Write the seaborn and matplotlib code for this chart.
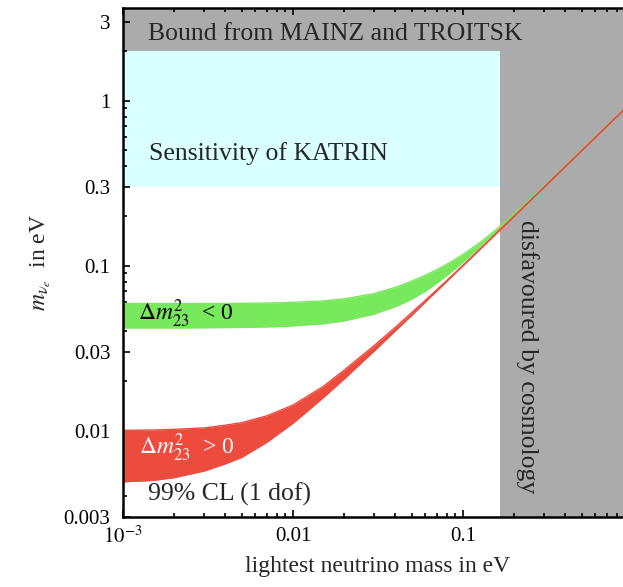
import numpy as np
import pandas as pd
import matplotlib
matplotlib.use("Agg")
import matplotlib.pyplot as plt
import seaborn as sns
from matplotlib.ticker import FixedLocator, LogLocator, NullFormatter

# Lightest neutrino mass (eV) at which the bands are sampled
m_light = [0.001, 0.0015, 0.002, 0.003, 0.004, 0.005, 0.007, 0.01, 0.015, 0.02, 0.03, 0.04,
           0.05, 0.06, 0.07, 0.08, 0.09, 0.1, 0.115, 0.13, 0.15, 0.17, 0.3, 0.5, 1.0]

# Inverted ordering (Delta m^2_23 < 0): effective electron-neutrino mass range (eV)
inv_upper = [0.0590, 0.0590, 0.0590, 0.0590, 0.0590, 0.0592, 0.0594, 0.0600, 0.0612, 0.0630,
             0.0678, 0.0740, 0.0808, 0.0875, 0.0945, 0.1018, 0.1095, 0.1172, 0.1295, 0.1420,
             0.1600, 0.1780, 0.3030, 0.5030, 1.0030]
inv_lower = [0.0420, 0.0420, 0.0420, 0.0421, 0.0422, 0.0423, 0.0426, 0.0432, 0.0445, 0.0463,
             0.0510, 0.0565, 0.0628, 0.0702, 0.0785, 0.0870, 0.0960, 0.1050, 0.1200, 0.1350,
             0.1550, 0.1740, 0.3005, 0.5005, 1.0005]

# Normal ordering (Delta m^2_23 > 0)
nor_upper = [0.01005, 0.0101, 0.0102, 0.0104, 0.0108, 0.0112, 0.0123, 0.0143, 0.0185, 0.0233,
             0.0328, 0.0424, 0.0521, 0.0617, 0.0714, 0.0811, 0.0909, 0.1007, 0.1155, 0.1304,
             0.1503, 0.1703, 0.3000, 0.5000, 0.9995]
nor_lower = [0.0049, 0.0050, 0.0052, 0.0057, 0.0063, 0.0069, 0.0085, 0.0111, 0.0158, 0.0206,
             0.0304, 0.0403, 0.0502, 0.0602, 0.0702, 0.0801, 0.0901, 0.1000, 0.1149, 0.1298,
             0.1497, 0.1696, 0.2988, 0.4985, 0.9975]

# Experimental limits (eV)
mainz_troitsk_bound = 2.0
katrin_sensitivity = 0.3
cosmology_bound = 0.165

x_ticks = [0.001, 0.01, 0.1]
x_tick_labels = [r"$10^{-3}$", "0.01", "0.1"]
y_ticks = [0.003, 0.01, 0.03, 0.1, 0.3, 1, 3]
y_tick_labels = ["0.003", "0.01", "0.03", "0.1", "0.3", "1", "3"]

sns.set_theme(style="ticks")
plt.rcParams["font.family"] = ["Liberation Serif", "DejaVu Serif"]
plt.rcParams["mathtext.fontset"] = "stix"

W, H = 623, 587
fig = plt.figure(figsize=(W / 100, H / 100), dpi=100)
ax = fig.add_axes([123 / W, 70 / H, 510 / W, 509 / H])

x_min, x_max = 1e-3, 1.0
y_min, y_max = 0.003, 3.65
ax.set_xscale("log")
ax.set_yscale("log")
ax.set_xlim(x_min, x_max)
ax.set_ylim(y_min, y_max)

grey = "#ababab"
cyan = "#d9ffff"
green = "#78e85c"
red = "#ec4b3d"

# Excluded / probed regions
ax.axhspan(mainz_troitsk_bound, y_max, color=grey, lw=0, zorder=0)
ax.axvspan(cosmology_bound, x_max, color=grey, lw=0, zorder=0)
ax.fill_between([x_min, cosmology_bound], katrin_sensitivity, mainz_troitsk_bound,
                color=cyan, lw=0, zorder=0)

df = pd.DataFrame({
    "m": m_light,
    "inv_hi": inv_upper, "inv_lo": inv_lower,
    "nor_hi": nor_upper, "nor_lo": nor_lower,
})

# Allowed bands
ax.fill_between(df["m"], df["inv_lo"], df["inv_hi"], color=green, lw=0, zorder=2)
ax.fill_between(df["m"], df["nor_lo"], df["nor_hi"], color=red, lw=0, zorder=3)
for col, c, z in [("inv_hi", green, 2), ("inv_lo", green, 2), ("nor_hi", red, 3), ("nor_lo", red, 3)]:
    sns.lineplot(data=df, x="m", y=col, ax=ax, color=c, lw=1.0, zorder=z,
                 estimator=None, sort=False)

# Ticks in the inward style
ax.xaxis.set_major_locator(FixedLocator(x_ticks))
ax.set_xticklabels(x_tick_labels)
ax.yaxis.set_major_locator(FixedLocator(y_ticks))
ax.set_yticklabels(y_tick_labels)
ax.xaxis.set_minor_locator(LogLocator(base=10, subs=np.arange(2, 10)))
ax.yaxis.set_minor_locator(LogLocator(base=10, subs=np.arange(2, 10)))
ax.xaxis.set_minor_formatter(NullFormatter())
ax.yaxis.set_minor_formatter(NullFormatter())
ax.tick_params(which="both", direction="in", top=True, right=False, width=1.2,
               colors="black", labelsize=15, zorder=10)
ax.tick_params(which="major", length=5)
ax.tick_params(which="minor", length=3)
ax.tick_params(axis="y", pad=9)
ax.tick_params(axis="x", pad=7)
for s in ax.spines.values():
    s.set_linewidth(1.8)
    s.set_color("black")
    s.set_zorder(10)

ax.set_xlabel("lightest neutrino mass in eV", fontsize=17, labelpad=6)
ax.set_ylabel(r"$m_{\nu_e}$  in eV", fontsize=17, labelpad=8)

# Annotations
ax.text(0.0014, 2.55, "Bound from MAINZ and TROITSK", fontsize=18.5, ha="left", va="center", zorder=5)
ax.text(0.00143, 0.48, "Sensitivity of KATRIN", fontsize=18.5, ha="left", va="center", zorder=5)
ax.text(0.24, 0.028, "disfavoured by cosmology", fontsize=18.5, rotation=-90,
        ha="center", va="center", zorder=5)
ax.text(0.0014, 0.0041, "99% CL (1 dof)", fontsize=18.5, ha="left", va="center", zorder=5)
ax.text(0.00122, 0.051, r"$\Delta m^2_{23}$  < 0", fontsize=17, ha="left", va="center",
        color="black", zorder=5)
ax.text(0.00124, 0.0079, r"$\Delta m^2_{23}$  > 0", fontsize=17, ha="left", va="center",
        color="white", zorder=5)

fig.savefig("out.png", dpi=100)
